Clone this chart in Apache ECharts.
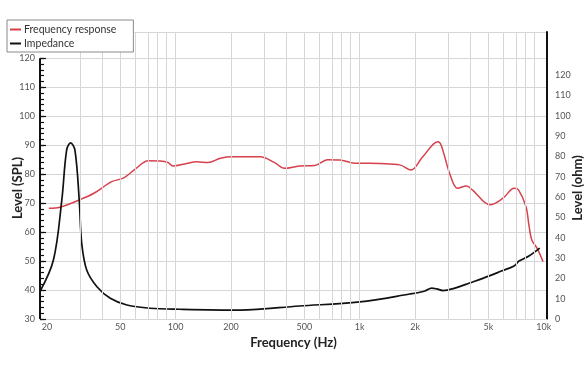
<!DOCTYPE html>
<html><head><meta charset="utf-8">
<script src="https://cdn.jsdelivr.net/npm/echarts@6/dist/echarts.min.js"></script>
<style>html,body{margin:0;padding:0;background:#fff}#c{width:588px;height:372px}</style>
</head><body><div id="c"></div>
<script>
// ---- data ----
const freqResponseHz = [20.5,23.5,30,36,45,52.3,61,71,82,91,96.6,115,130,150,175,205,288,345,390,470,570,670,780,940,1130,1280,1650,1900,2200,2660,2770,3100,3400,3800,4100,5100,6000,6900,7300,8000,8300,8600,9200,9900];
const freqResponseDb = [68.2,68.6,71.1,73.4,77.4,78.7,82,84.6,84.5,84,82.8,83.7,84.3,84,85.5,86,86,84,82,82.8,83,85,84.9,83.8,83.8,83.7,83.2,81.4,86,91.2,90,79.7,75.1,75.9,74.5,69.4,71.7,75.1,74.5,68.8,62.4,57.3,54.4,49.8];
const impedanceHz = [18.3,21.7,24.1,25.6,26.9,28.4,29.97,30.9,32.9,37.4,44.2,54.4,72.6,105.6,224,470,1000,1870,2260,2460,2620,2830,3290,3950,5060,5880,6890,7330,8300,9500];
const impedanceOhm = [13.3,29,58.5,83.1,86.7,83.1,58.5,37.4,24.1,15.9,10.2,6.9,5.3,4.8,4.4,6.4,8.4,12.3,13.8,15.2,14.8,14.0,15.2,17.7,21.2,23.6,26.1,28.5,31,34.9];
const xTickHz = [20,50,100,200,500,1000,2000,5000,10000];
const xTickLabels = ['20','50','100','200','500','1k','2k','5k','10k'];
const xGridHz = [30,40,50,60,70,80,90,100,200,300,400,500,600,700,800,900,1000,2000,3000,4000,5000,6000,7000,8000,9000];
const splTicks = [30,40,50,60,70,80,90,100,110,120];
const ohmTicks = [0,10,20,30,40,50,60,70,80,90,100,110,120];
const seriesNames = ['Frequency response','Impedance'];

// ---- chart ----
const L = Math.log10;
const xMin = 1.2636, xMax = 4.0172;
const splMin = 30, splMax = 129.07, ohmMin = 0, ohmMax = 141.2;
const minorSpl = []; for (let v = 30; v <= 120; v += 2) minorSpl.push(v);
const font = 'Lato';
const chart = echarts.init(document.getElementById('c'), null, {renderer:'canvas'});
chart.setOption({
  animation:false,
  backgroundColor:'#fff',
  grid:{left:40,right:41,top:32,bottom:53,outerBoundsMode:'none',containLabel:false},
  legend:{
    orient:'vertical', left:7, top:20, data:seriesNames,
    backgroundColor:'#fff', borderColor:'#8a8a8a', borderWidth:1,
    padding:[4,17,3,3], itemGap:3, itemWidth:11, itemHeight:2, icon:'rect',
    textStyle:{fontFamily:font,fontSize:10.5,color:'#333',padding:[0,0,0,-2]}, z:10
  },
  xAxis:{
    type:'value', min:xMin, max:xMax,
    name:'Frequency (Hz)', nameLocation:'middle', nameGap:17, nameMoveOverlap:false,
    nameTextStyle:{fontFamily:font,fontWeight:'bold',fontSize:13,color:'#222'},
    axisLine:{show:true,lineStyle:{color:'#d6d6d6',width:1}},
    axisTick:{show:false}, splitLine:{show:false},
    axisLabel:{customValues:xTickHz.map(L), margin:4, fontFamily:font, fontSize:9, color:'#555',
      formatter:v=>{const i=xTickHz.findIndex(f=>Math.abs(L(f)-v)<1e-6);return i>=0?xTickLabels[i]:'';}}
  },
  yAxis:[
    {type:'value', position:'left', min:splMin, max:splMax, interval:10,
     name:'Level (SPL)', nameLocation:'middle', nameGap:16, nameMoveOverlap:false,
     nameTextStyle:{fontFamily:font,fontWeight:'bold',fontSize:13,color:'#222',padding:[0,25,0,0]},
     axisLine:{show:false}, axisTick:{show:false},
     axisLabel:{margin:5,fontFamily:font,fontSize:9,color:'#555',formatter:v=>splTicks.includes(v)?String(v):''},
     splitLine:{show:true,lineStyle:{color:'#d6d6d6',width:1}}},
    {type:'value', position:'left', min:splMin, max:splMax, show:true,
     axisLine:{show:false}, axisLabel:{show:false}, splitLine:{show:false},
     axisTick:{show:true,inside:true,length:4,customValues:minorSpl,lineStyle:{color:'#111',width:1.2}}},
    {type:'value', position:'left', min:splMin, max:splMax, show:true,
     axisLine:{show:false}, axisLabel:{show:false}, splitLine:{show:false},
     axisTick:{show:true,inside:true,length:6,customValues:splTicks,lineStyle:{color:'#111',width:1.2}}},
    {type:'value', position:'right', min:ohmMin, max:ohmMax, interval:10,
     name:'Level (ohm)', nameLocation:'middle', nameGap:24, nameMoveOverlap:false,
     nameTextStyle:{fontFamily:font,fontWeight:'bold',fontSize:13,color:'#222',padding:[0,25,0,0]},
     axisLine:{show:true,lineStyle:{color:'#111',width:2}}, axisTick:{show:false},
     axisLabel:{margin:8,fontFamily:font,fontSize:9,color:'#555',formatter:v=>ohmTicks.includes(v)?String(v):''},
     splitLine:{show:false}}
  ],
  series:[
    {name:'grid', type:'line', data:[], z:1, silent:true, xAxisIndex:0, yAxisIndex:0,
     markLine:{silent:true, symbol:'none', label:{show:false}, animation:false,
       lineStyle:{color:'#d6d6d6',width:1,type:'solid'},
       data:xGridHz.map(f=>({xAxis:L(f)}))}},
    {name:'axis', type:'line', data:[], z:5, silent:true, xAxisIndex:0, yAxisIndex:0,
     markLine:{silent:true, symbol:'none', label:{show:false}, animation:false,
       lineStyle:{color:'#111',width:2,type:'solid'},
       data:[[{coord:[xMin,splTicks[0]]},{coord:[xMin,splTicks[splTicks.length-1]]}]]}},
    {name:seriesNames[0], type:'line', yAxisIndex:0, z:3, smooth:0.35, symbol:'none',
     color:'#d8404c', lineStyle:{width:1.5,color:'#d8404c'},
     data:freqResponseHz.map((f,i)=>[L(f),freqResponseDb[i]])},
    {name:seriesNames[1], type:'line', yAxisIndex:3, z:3, smooth:0.35, symbol:'none',
     color:'#111', lineStyle:{width:1.7,color:'#111'},
     data:impedanceHz.map((f,i)=>[L(f),impedanceOhm[i]])}
  ]
});
</script></body></html>
